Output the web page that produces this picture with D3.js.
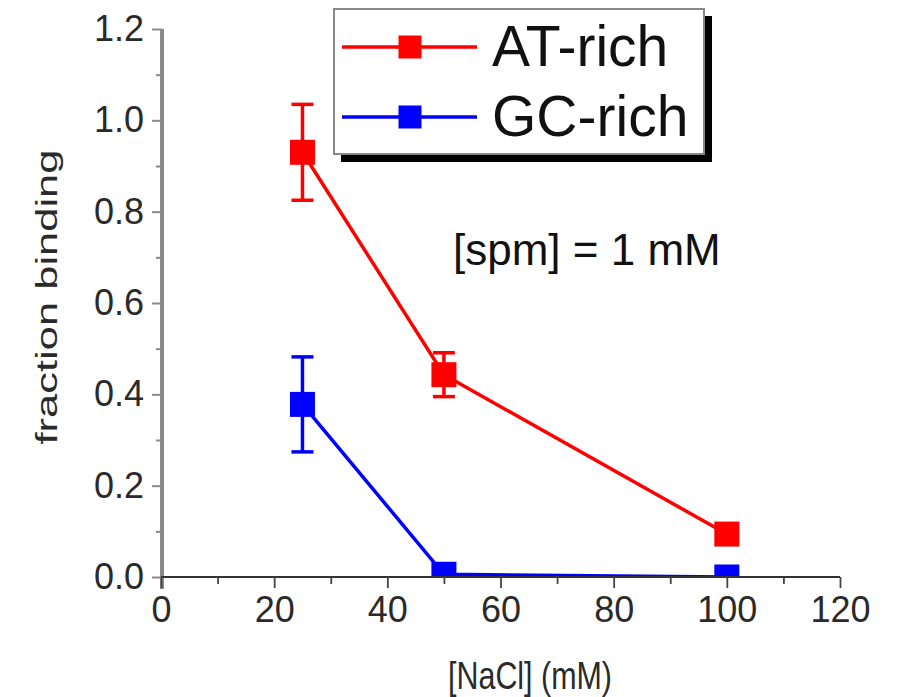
<!DOCTYPE html>
<html>
<head>
<meta charset="utf-8">
<script src="https://cdn.jsdelivr.net/npm/d3@7"></script>
<style>
  html, body { margin: 0; padding: 0; background: #fff; }
  svg { display: block; }
  text { font-family: "Liberation Sans", Arial, Helvetica, sans-serif; }
</style>
</head>
<body>
<svg id="chart" width="897" height="697"></svg>
<script>
// ---- data ----
const nacl = [25, 50, 100];
const atRich = [0.93, 0.443, 0.094];
const atErr = [0.105, 0.048, 0];
const gcRich = [0.378, 0.006, 0.0];
const gcErr = [0.104, 0, 0];
const seriesNames = ["AT-rich", "GC-rich"];
const seriesColors = ["#ff0000", "#0000ff"];
const xTicks = [0, 20, 40, 60, 80, 100, 120];
const yTicks = [0.0, 0.2, 0.4, 0.6, 0.8, 1.0, 1.2];
const xMinor = [10, 30, 50, 70, 90, 110];
const yMinor = [0.1, 0.3, 0.5, 0.7, 0.9, 1.1];
const annotation = "[spm] = 1 mM";

const svg = d3.select("#chart");
const x = d3.scaleLinear().domain([0, 120]).range([161, 840]);
const y = d3.scaleLinear().domain([0, 1.2]).range([577, 29]);

// clip
svg.append("defs").append("clipPath").attr("id", "plotclip")
  .append("rect").attr("x", x(0)).attr("y", y(1.2) - 20)
  .attr("width", x(120) - x(0) + 20).attr("height", y(0) - y(1.2) + 20);

const series = [
  { name: seriesNames[0], color: seriesColors[0], vals: atRich, err: atErr },
  { name: seriesNames[1], color: seriesColors[1], vals: gcRich, err: gcErr }
];

const plot = svg.append("g").attr("clip-path", "url(#plotclip)");
const line = d3.line().x(d => x(d[0])).y(d => y(d[1]));
const sq = 25, cap = 22;

series.forEach(s => {
  const pts = nacl.map((n, i) => [n, s.vals[i], s.err[i]]);
  // error bars
  pts.filter(p => p[2] > 0).forEach(p => {
    const g = plot.append("g").attr("stroke", s.color).attr("stroke-width", 3.5);
    g.append("line").attr("x1", x(p[0])).attr("x2", x(p[0]))
      .attr("y1", y(p[1] + p[2])).attr("y2", y(p[1] - p[2]));
    [p[1] + p[2], p[1] - p[2]].forEach(v => {
      g.append("line").attr("x1", x(p[0]) - cap / 2).attr("x2", x(p[0]) + cap / 2)
        .attr("y1", y(v)).attr("y2", y(v));
    });
  });
  plot.append("path").datum(pts).attr("d", line)
    .attr("fill", "none").attr("stroke", s.color).attr("stroke-width", 3.5);
  plot.selectAll(null).data(pts).enter().append("rect")
    .attr("x", d => x(d[0]) - sq / 2).attr("y", d => y(d[1]) - sq / 2)
    .attr("width", sq).attr("height", sq).attr("fill", s.color);
});

// y axis
const yAxis = d3.axisLeft(y).tickValues(yTicks).tickFormat(d3.format(".1f"))
  .tickSize(10).tickPadding(8);
const gy = svg.append("g").attr("transform", `translate(${x(0) + 1},0)`).call(yAxis);
gy.select(".domain").attr("stroke", "#8a8a8a").attr("stroke-width", 4)
  .attr("d", `M0,${y(1.2)}V${y(0) + 12}`);
gy.selectAll(".tick line").attr("stroke", "#8a8a8a").attr("stroke-width", 2);
gy.selectAll(".tick text").attr("font-size", 36).attr("fill", "#2a2a2a")
  .attr("font-family", "Liberation Sans, Arial, sans-serif");
const gyMinor = svg.append("g").attr("transform", `translate(${x(0) + 1},0)`)
  .call(d3.axisLeft(y).tickValues(yMinor).tickSize(6).tickFormat(""));
gyMinor.select(".domain").remove();
gyMinor.selectAll(".tick line").attr("stroke", "#8a8a8a").attr("stroke-width", 2);

// x axis
const xAxis = d3.axisBottom(x).tickValues(xTicks).tickFormat(d3.format("d"))
  .tickSize(11).tickPadding(8);
const gx = svg.append("g").attr("transform", `translate(0,${y(0)})`).call(xAxis);
gx.select(".domain").attr("stroke", "#333").attr("stroke-width", 1.8)
  .attr("d", `M${x(0)},0H${x(120)}`);
gx.selectAll(".tick line").attr("stroke", "#444").attr("stroke-width", 1.8);
gx.selectAll(".tick text").attr("font-size", 36).attr("fill", "#2a2a2a")
  .attr("font-family", "Liberation Sans, Arial, sans-serif");
const gxMinor = svg.append("g").attr("transform", `translate(0,${y(0)})`)
  .call(d3.axisBottom(x).tickValues(xMinor).tickSize(7).tickFormat(""));
gxMinor.select(".domain").remove();
gxMinor.selectAll(".tick line").attr("stroke", "#444").attr("stroke-width", 1.8);

// axis titles
svg.append("text").attr("transform", "translate(530,689) scale(0.8,1)")
  .attr("text-anchor", "middle")
  .attr("font-size", 38).attr("fill", "#2a2a2a")
  .text("[NaCl] (mM)");
svg.append("text").attr("transform", "translate(57,297) rotate(-90) scale(1.45,1)")
  .attr("text-anchor", "middle").attr("font-size", 30).attr("fill", "#2a2a2a")
  .text("fraction binding");

// annotation
svg.append("text").attr("x", 453).attr("y", 265).attr("font-size", 44)
  .attr("font-family", "Roboto, sans-serif").attr("font-weight", 300)
  .attr("fill", "#111").text(annotation);

// legend
const lg = svg.append("g");
lg.append("rect").attr("x", 341).attr("y", 16).attr("width", 371).attr("height", 146).attr("fill", "#000");
lg.append("rect").attr("x", 334).attr("y", 9).attr("width", 370).attr("height", 145)
  .attr("fill", "#fff").attr("stroke", "#888").attr("stroke-width", 2);
series.forEach((s, i) => {
  const ly = 47 + i * 70;
  lg.append("line").attr("x1", 342).attr("x2", 477).attr("y1", ly).attr("y2", ly)
    .attr("stroke", s.color).attr("stroke-width", 3.5);
  lg.append("rect").attr("x", 410 - 11.5).attr("y", ly - 11.5).attr("width", 23).attr("height", 23)
    .attr("fill", s.color);
  lg.append("text").attr("x", 492).attr("y", ly + 19).attr("font-size", 57)
    .attr("fill", "#111").text(s.name);
});
</script>
</body>
</html>
